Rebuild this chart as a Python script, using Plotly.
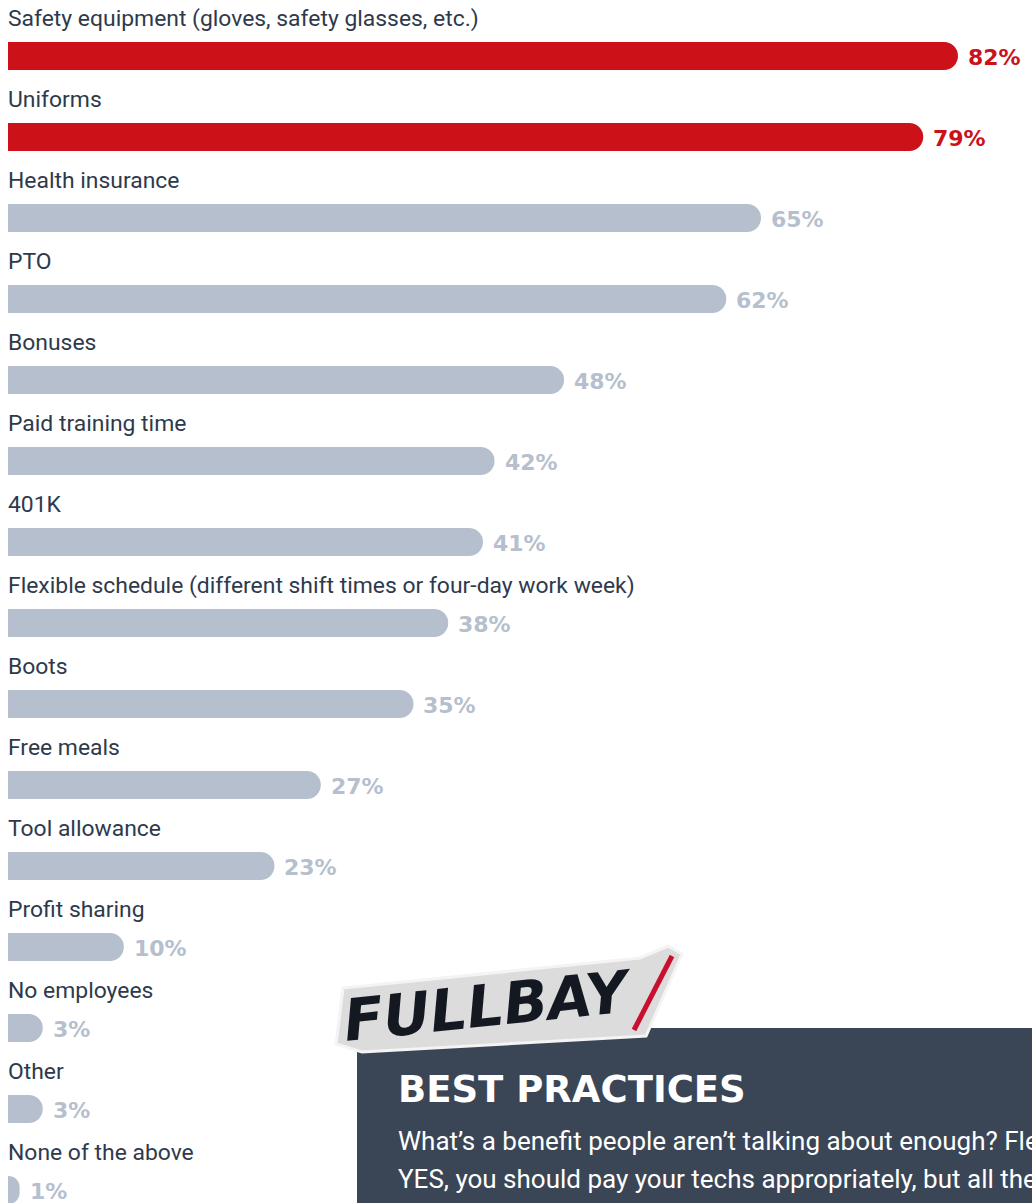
import plotly.graph_objects as go

categories = [
    "Safety equipment (gloves, safety glasses, etc.)",
    "Uniforms",
    "Health insurance",
    "PTO",
    "Bonuses",
    "Paid training time",
    "401K",
    "Flexible schedule (different shift times or four-day work week)",
    "Boots",
    "Free meals",
    "Tool allowance",
    "Profit sharing",
    "No employees",
    "Other",
    "None of the above",
]
values = [82, 79, 65, 62, 48, 42, 41, 38, 35, 27, 23, 10, 3, 3, 1]
highlight = [True, True] + [False] * 13

RED = "#cc1118"
GRAY = "#b6bfcd"
LABEL = "#2e3a4c"
W, H = 1032, 1203

# pixel layout -> axis ranges
x0_px, px_per_unit = 8, 11.585
row0_px, row_step = 56, 81
bar_h_px = 28

xrange = [-x0_px / px_per_unit, (W - x0_px) / px_per_unit]
yrange = [(H - row0_px) / row_step, -row0_px / row_step]

ypos = list(range(len(categories)))
colors = [RED if h else GRAY for h in highlight]

fig = go.Figure()
fig.add_trace(go.Bar(
    x=values, y=ypos, orientation="h",
    marker=dict(color=colors, line=dict(width=0)),
    width=bar_h_px / row_step,
    hoverinfo="skip",
))

annotations = []
for i, (cat, v, h) in enumerate(zip(categories, values, highlight)):
    annotations.append(dict(
        x=0, y=i - 38 / row_step, xref="x", yref="y",
        text=cat, showarrow=False, xanchor="left", yanchor="middle",
        xshift=-2,
        font=dict(family="Roboto", size=22.9, color=LABEL),
    ))
    annotations.append(dict(
        x=v, y=i + 1 / row_step, xref="x", yref="y",
        text=f"{v}%", showarrow=False, xanchor="left", yanchor="middle",
        xshift=8,
        font=dict(family="DejaVu Sans", size=22, weight="bold",
                  color=RED if h else GRAY),
    ))

def px(x, y):
    return x / W, 1 - y / H

shapes = []
# dark callout box
bx0, by0 = px(357, 1028)
bx1, by1 = px(1040, 1210)
shapes.append(dict(type="rect", xref="paper", yref="paper",
                   x0=bx0, y0=by1, x1=bx1, y1=by0,
                   fillcolor="#3a4555", line=dict(width=0), layer="above"))

# logo sticker
pts = [(336, 1044), (343, 988), (640, 958), (668, 946), (682, 954),
       (646, 1036), (362, 1052)]
path = "M " + " L ".join(f"{px(x, y)[0]:.4f},{px(x, y)[1]:.4f}" for x, y in pts) + " Z"
shapes.append(dict(type="path", xref="paper", yref="paper", path=path,
                   fillcolor="#dcdcdc", line=dict(color="#f4f4f4", width=3),
                   layer="above"))
sx0, sy0 = px(634, 1030)
sx1, sy1 = px(672, 956)
shapes.append(dict(type="line", xref="paper", yref="paper",
                   x0=sx0, y0=sy0, x1=sx1, y1=sy1,
                   line=dict(color="#c8102e", width=5), layer="above"))

lx, ly = px(488, 1006)
annotations.append(dict(
    x=lx, y=ly, xref="paper", yref="paper", text="FULLBAY",
    showarrow=False, xanchor="center", yanchor="middle", textangle=-6,
    font=dict(family="DejaVu Sans", size=58, weight="bold", style="italic",
              color="#141820"),
))

tx, ty = px(396, 1089)
annotations.append(dict(
    x=tx, y=ty, xref="paper", yref="paper", text="BEST PRACTICES",
    showarrow=False, xanchor="left", yanchor="middle",
    font=dict(family="DejaVu Sans", size=37, weight="bold", color="#ffffff"),
))
body_lines = [
    "What\u2019s a benefit people aren\u2019t talking about enough? Flexibility.",
    "YES, you should pay your techs appropriately, but all the",
]
for k, line in enumerate(body_lines):
    bx, by = px(396, 1141 + 38 * k)
    annotations.append(dict(
        x=bx, y=by, xref="paper", yref="paper", text=line,
        showarrow=False, xanchor="left", yanchor="middle",
        font=dict(family="Roboto", size=26, color="#ffffff"),
    ))

fig.update_layout(
    width=W, height=H,
    margin=dict(l=0, r=0, t=0, b=0),
    paper_bgcolor="white", plot_bgcolor="white",
    showlegend=False,
    barcornerradius=bar_h_px // 2,
    xaxis=dict(range=xrange, visible=False, fixedrange=True),
    yaxis=dict(range=yrange, visible=False, fixedrange=True),
    annotations=annotations,
    shapes=shapes,
)

fig.write_html("out.html")
